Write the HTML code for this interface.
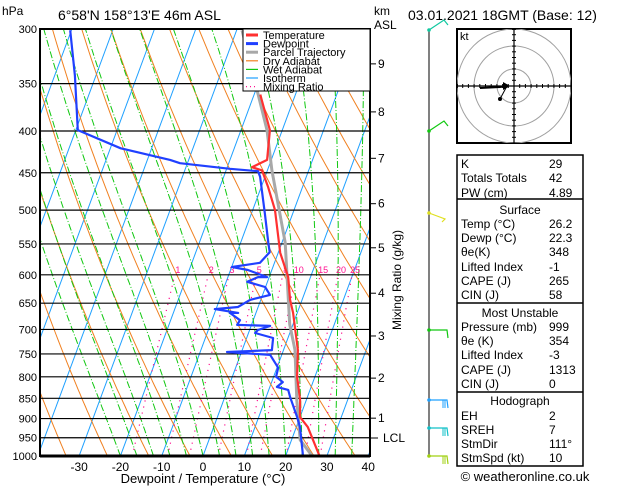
<!DOCTYPE html>
<html><head><meta charset="utf-8"><style>
html,body{margin:0;padding:0;background:#fff;}
svg{display:block;font-family:"Liberation Sans",sans-serif;}
</style></head><body>
<svg id="chart" width="629" height="486" viewBox="0 0 629 486" xmlns="http://www.w3.org/2000/svg">
<defs><clipPath id="plotclip"><rect x="40" y="29" width="330" height="427"/></clipPath>
<clipPath id="hodoclip"><rect x="457" y="29" width="114" height="114"/></clipPath></defs>
<text x="2" y="15" font-size="12">hPa</text>
<text x="58" y="20" font-size="14">6°58'N  158°13'E  46m  ASL</text>
<text x="374" y="15" font-size="12">km</text>
<text x="374" y="29" font-size="12">ASL</text>
<text x="408" y="20" font-size="14">03.01.2021  18GMT  (Base: 12)</text>
<g id="bg" clip-path="url(#plotclip)"></g>
<g id="grid"></g>
<g id="profiles" clip-path="url(#plotclip)"></g>
<rect x="40" y="29" width="330" height="427" fill="none" stroke="#000" stroke-width="2"/>
<line x1="40" y1="456" x2="370" y2="456" stroke="#000" stroke-width="3"/>
<g>
<rect x="243" y="29" width="127" height="62" fill="#fff" stroke="#000" stroke-width="1"/>
<g id="legend-items"></g>
</g>
<text x="203" y="483" font-size="13" text-anchor="middle">Dewpoint / Temperature (°C)</text>
<text transform="translate(401,280) rotate(-90)" font-size="12" text-anchor="middle">Mixing Ratio (g/kg)</text>
<text x="383" y="442" font-size="12">LCL</text>
<line x1="370" y1="438" x2="378" y2="438" stroke="#000"/>
<line x1="429" y1="29" x2="429" y2="456" stroke="#000"/>
<g id="barbs"></g>
<g>
<rect x="457" y="29" width="114" height="114" fill="#fff" stroke="#000" stroke-width="2"/>
<g id="hodo" clip-path="url(#hodoclip)"></g>
<text x="460" y="40" font-size="11">kt</text>
</g>
<g id="table"></g>
<text x="525" y="481" font-size="13" text-anchor="middle">© weatheronline.co.uk</text>
</svg>
<script>
// Temperature profile
const tempP=[1000,922,896,854,800,742,697,668,644,604,564,500,468,447,443,434,399,367,361];
const tempT=[28.2,22.8,20.0,18.5,15.7,13.5,10.8,9.0,7.1,4.6,0.5,-4.6,-8.4,-11.3,-14.0,-11.0,-13.0,-17.6,-18.5];
// Dewpoint profile
const dewP=[1000,922,896,847,830,823,812,800,780,752,746,742,717,707,701,693,691,682,668,668,661,657,644,635,621,612,604,604,592,587,580,563,548,504,455,448,445,438,434,420,399,342,301];
const dewT=[24.2,20.9,19.3,15.8,14.7,11.7,12.7,10.6,10.3,7.2,-3.5,7.2,6.4,1.6,2.0,4.6,-3.5,-3.2,-6.3,-4.3,-10.3,-4.9,-2.6,1.8,-0.1,-4.9,-2.7,-0.5,-5.8,-9.9,-3.5,-2.1,-3.3,-6.8,-11.2,-12.2,-19.2,-31.8,-34.5,-47.5,-59.5,-65.1,-70.3];
// Parcel trajectory
const parcelP=[1000,956,854,742,690,548,447,399,361,301];
const parcelT=[26.4,22.1,17.7,12.8,9.2,0.8,-8.9,-13.7,-19.0,-28.7];
const pressureTicks=[300,350,400,450,500,550,600,650,700,750,800,850,900,950,1000];
const tempTicks=[-30,-20,-10,0,10,20,30,40];
const kmTicks=[1,2,3,4,5,6,7,8,9];
const kmPressure=[899,803,713,632,556,491,432,379,331];
const mixRatios=[1,2,3,5,8,10,15,20,25];
const mixLabels=["1","2","3","5","8","10","15","20","25"];
const NS="http://www.w3.org/2000/svg";
function yP(p){return 29+354.6*Math.log(p/300);}
function xT(t,p){return 203+4.13*t+0.37*(456-yP(p));}
function mk(tag,attrs,parent){const e=document.createElementNS(NS,tag);for(const k in attrs)e.setAttribute(k,attrs[k]);parent.appendChild(e);return e;}
function poly(pts){return pts.map(a=>a[0].toFixed(1)+","+a[1].toFixed(1)).join(" ");}
const bg=document.getElementById('bg'),grid=document.getElementById('grid'),prof=document.getElementById('profiles');
for(let t=-120;t<=40;t+=10){
  const l=mk('line',{x1:xT(t,1000),y1:yP(1000),x2:xT(t,300),y2:yP(300),stroke:'#1ea0ff','stroke-width':1},bg);
  
  
}
for(let th=230;th<=460;th+=10){
  const pts=[];for(let p=1000;p>=300;p-=10){pts.push([xT(th*Math.pow(p/1000,0.286)-273.15,p),yP(p)]);}
  const l=mk('polyline',{points:poly(pts),fill:'none',stroke:'#f08020','stroke-width':1},bg);
  
  
}
function es(tc){return 6.112*Math.exp(17.67*tc/(tc+243.5));}
for(let tw=-20;tw<=36;tw+=4){
  let T=tw+273.15,pts=[];
  for(let p=1000;p>=300;p-=5){
    pts.push([xT(T-273.15,p),yP(p)]);
    const e=es(T-273.15),rs=0.622*e/(p-e);
    const dTdp=(287*T+2.5e6*rs)/(p*(1004+2.5e6*2.5e6*rs*0.622/(287*T*T)));
    T-=dTdp*5;
  }
  const l=mk('polyline',{points:poly(pts),fill:'none',stroke:'#10c810','stroke-width':1,'stroke-dasharray':'7,2,1,2'},bg);
  
  
}
mixRatios.forEach((w,i)=>{
  const pts=[];for(let p=1000;p>=600;p-=10){const e=w*p/(622+w);const a=Math.log(e/6.112);const td=243.5*a/(17.67-a);pts.push([xT(td,p),yP(p)]);}
  const l=mk('polyline',{points:poly(pts),fill:'none',stroke:'#ff1090','stroke-width':1.2,'stroke-dasharray':'1.2,5'},bg);
  
  
  const e=w*600/(622+w),a=Math.log(e/6.112),td=243.5*a/(17.67-a);
  const tx=mk('text',{x:xT(td,600)+3,y:yP(600)-2,'font-size':9,fill:'#ff1090','text-anchor':'middle'},grid);
  tx.textContent=mixLabels[i];
  
  
});
pressureTicks.forEach(p=>{
  const y=yP(p);
  const l=mk('line',{x1:40,y1:y,x2:370,y2:y,stroke:'#000','stroke-width':1.2},grid);
  
  
  const t=mk('text',{x:37,y:y+4,'font-size':11,'text-anchor':'end'},grid);
  t.textContent=p;
  
  
});
tempTicks.forEach(t=>{
  const x=xT(t,1000);
  const tx=mk('text',{x:x,y:471,'font-size':12,'text-anchor':'middle'},grid);
  tx.textContent=t;
  
  
});
kmTicks.forEach((k,i)=>{
  const y=yP(kmPressure[i]);
  mk('line',{x1:370,y1:y,x2:376,y2:y,stroke:'#000'},grid);
  const tx=mk('text',{x:378,y:y+4,'font-size':12},grid);
  tx.textContent=k;
  
  
});
function drawProfile(P,T,color,w,name){
  const pts=P.map((p,i)=>[xT(T[i],p),yP(p)]);
  const l=mk('polyline',{points:poly(pts),fill:'none',stroke:color,'stroke-width':w,'stroke-linejoin':'round'},prof);
  
  
}
drawProfile(parcelP,parcelT,'#a8a8a8',3,'parcel-trajectory-line');
drawProfile(tempP,tempT,'#ff3030',2.2,'temperature-line');
drawProfile(dewP,dewT,'#2040ff',2.2,'dewpoint-line');
const leg=[["Temperature","#ff3030",3,""],["Dewpoint","#2040ff",3,""],["Parcel Trajectory","#a8a8a8",3,""],["Dry Adiabat","#f08020",1.2,""],["Wet Adiabat","#10c810",1.2,""],["Isotherm","#1ea0ff",1.2,""],["Mixing Ratio","#ff1090",1.2,"1,3"]];
const lg=document.getElementById('legend-items');
leg.forEach((d,i)=>{
  const y=35+i*8.6;
  const l=mk('line',{x1:246,y1:y,x2:258,y2:y,stroke:d[1],'stroke-width':d[2]},lg);
  if(d[3])l.setAttribute('stroke-dasharray',d[3]);
  const t=mk('text',{x:263,y:y+4,'font-size':11},lg);
  t.textContent=d[0];
  
  
});
const barbs=[[30,'#10c8a0'],[131,'#10c810'],[213,'#e0e020'],[330,'#10c810'],[400,'#1ea0ff'],[428,'#10c0c8'],[456,'#a0d010']];
const bg2=document.getElementById('barbs');
barbs.forEach((b,i)=>{
  const y=b[0],c=b[1];
  const g=mk('g',{},bg2);
  
  
  mk('circle',{cx:429,cy:y,r:1.8,fill:c},g);
  if(i<2){mk('polyline',{points:`429,${y} 444,${y-10} 448,${y-5}`,fill:'none',stroke:c,'stroke-width':1.2},g);}
  else if(i==2){mk('polyline',{points:`429,${y} 445,${y+6} 442,${y+9}`,fill:'none',stroke:c,'stroke-width':1.2},g);}
  else{mk('polyline',{points:`429,${y} 447,${y} 448,${y+8}`,fill:'none',stroke:c,'stroke-width':1.2},g);
    if(i>=4){mk('line',{x1:445,y1:y,x2:445,y2:y+8,stroke:c},g);mk('line',{x1:443,y1:y,x2:443,y2:y+8,stroke:c},g);}}
});
const hd=document.getElementById('hodo');const cx=514,cy=86;
[17,40,57].forEach(r=>mk('circle',{cx:cx,cy:cy,r:r,fill:'none',stroke:'#a0a0a0','stroke-width':1},hd));
mk('line',{x1:457,y1:cy,x2:571,y2:cy,stroke:'#000','stroke-width':1.2},hd);
mk('line',{x1:cx,y1:29,x2:cx,y2:143,stroke:'#000','stroke-width':1.2},hd);
for(let d=-57;d<=57;d+=5.7){mk('line',{x1:cx+d,y1:cy-2,x2:cx+d,y2:cy+2,stroke:'#000'},hd);mk('line',{x1:cx-2,y1:cy+d,x2:cx+2,y2:cy+d,stroke:'#000'},hd);}
mk('polyline',{points:`480,88 500,87 507,86`,fill:'none',stroke:'#000','stroke-width':2},hd);
mk('polyline',{points:`507,86 500,99`,fill:'none',stroke:'#000','stroke-width':1},hd);
mk('circle',{cx:500,cy:99,r:2,fill:'#000'},hd);
mk('polygon',{points:`503,82 510,86 503,90`,fill:'#000'},hd);
const tb=document.getElementById('table');
mk('rect',{x:457,y:155,width:126,height:311,fill:'#fff',stroke:'#000','stroke-width':1.5},tb);
[199,303,392].forEach(y=>mk('line',{x1:457,y1:y,x2:583,y2:y,stroke:'#000','stroke-width':1.5},tb));
const rows=[["K","29",164],["Totals Totals","42",178],["PW (cm)","4.89",193],["#Surface","",210],["Temp (°C)","26.2",224],["Dewp (°C)","22.3",238],["θe(K)","348",252],["Lifted Index","-1",267],["CAPE (J)","265",281],["CIN (J)","58",295],["#Most Unstable","",313],["Pressure (mb)","999",327],["θe (K)","354",341],["Lifted Index","-3",355],["CAPE (J)","1313",370],["CIN (J)","0",384],["#Hodograph","",401],["EH","2",416],["SREH","7",430],["StmDir","111°",444],["StmSpd (kt)","10",458]];
rows.forEach(r=>{
  if(r[0][0]=='#'){const t=mk('text',{x:520,y:r[2]+4,'font-size':12,'text-anchor':'middle'},tb);t.textContent=r[0].slice(1);
    
    return;}
  const a=mk('text',{x:461,y:r[2]+4,'font-size':12},tb);a.textContent=r[0];
  
  
  const b=mk('text',{x:549,y:r[2]+4,'font-size':12},tb);b.textContent=r[1];
  
  
});
</script>
</body></html>
